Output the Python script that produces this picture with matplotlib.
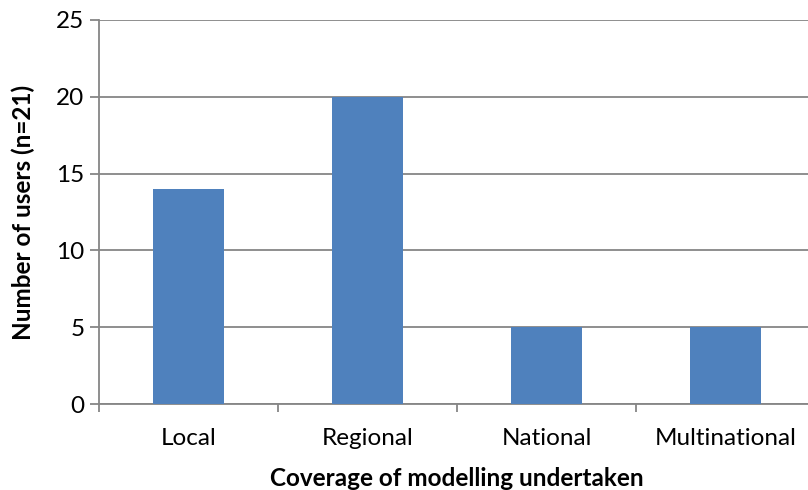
import numpy as np
import matplotlib
matplotlib.use("Agg")
import matplotlib.pyplot as plt

categories = ["Local", "Regional", "National", "Multinational"]
users = [14, 20, 5, 5]
y_ticks = [0, 5, 10, 15, 20, 25]

plt.rcParams['font.family'] = ['Lato', 'DejaVu Sans']

fig = plt.figure(figsize=(8.08, 4.90), dpi=100)
ax = fig.add_axes([99/808, 1-404/490, (815-99)/808, (404-20)/490])

x = np.arange(len(categories))
ax.bar(x, users, width=0.4, color='#4F81BD', zorder=3)

ax.set_xlim(-0.5, len(categories)-0.5)
ax.set_ylim(0, 25)
ax.set_yticks(y_ticks)
ax.yaxis.grid(True, color='#868686', linewidth=1.3, zorder=0)

# category boundary ticks like excel
ax.set_xticks(np.arange(len(categories)+1)-0.5)
ax.set_xticklabels([])
ax.set_xticks(x, minor=True)
ax.set_xticklabels(categories, minor=True, fontsize=17.5)
ax.tick_params(axis='x', which='minor', length=0, pad=17)
ax.tick_params(axis='x', which='major', length=6, width=1.3, color='#868686')
ax.tick_params(axis='y', length=6.5, width=1.3, color='#868686', labelsize=17.5, pad=4)

for s in ['top', 'right']:
    ax.spines[s].set_visible(False)
for s in ['left', 'bottom']:
    ax.spines[s].set_color('#868686')
    ax.spines[s].set_linewidth(1.3)

ax.set_xlabel("Coverage of modelling undertaken", fontsize=17.5, fontweight='bold')
ax.xaxis.set_label_coords(0.5, -0.163)
ax.set_ylabel("Number of users (n=21)", fontsize=17.5, fontweight='bold')
ax.yaxis.set_label_coords(-0.089, 0.5)

plt.savefig("out.png", dpi=100)
